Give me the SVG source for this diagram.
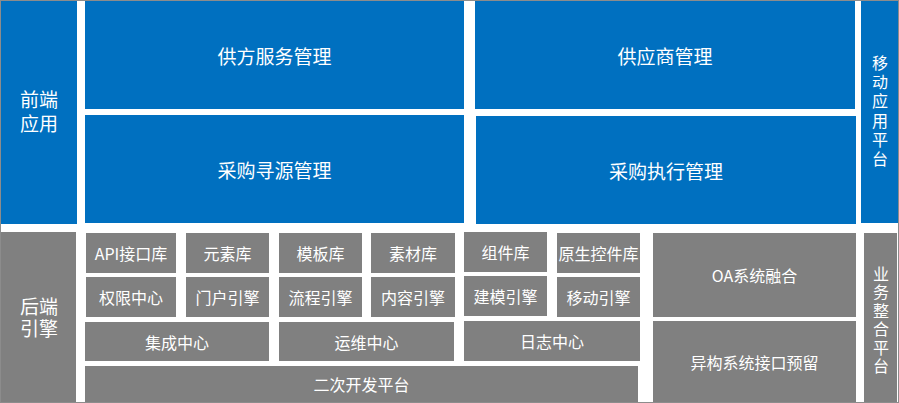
<svg xmlns="http://www.w3.org/2000/svg" width="899" height="403" viewBox="0 0 899 403">
<style>
  .blue { fill: #0070C0; }
  .gray { fill: #808080; }
  text { fill: #FFFFFF; font-family: "Noto Sans CJK SC", "Noto Sans", "Liberation Sans", sans-serif; text-anchor: middle; dominant-baseline: central; }
  .big { font-size: 19px; }
  .mid { font-size: 16px; }
  .side { font-size: 19px; font-family: "Liberation Sans", "Noto Sans CJK SC", sans-serif; }
  .vert { font-size: 16px; writing-mode: vertical-rl; }
</style>
<rect x="0" y="0" width="899" height="403" fill="#FFFFFF"/>
<g id="nodes">
  <g id="front-app"><rect class="blue" x="1" y="1" width="76" height="223"/><text class="side" x="39" y="100"><tspan x="39" y="100">前端</tspan><tspan x="39" dy="24">应用</tspan></text></g>
  <g id="supplier-service"><rect class="blue" x="85" y="1" width="379" height="108"/><text class="big" x="274.5" y="55">供方服务管理</text></g>
  <g id="sourcing"><rect class="blue" x="85" y="115" width="379" height="108"/><text class="big" x="274.5" y="169">采购寻源管理</text></g>
  <g id="supplier"><rect class="blue" x="475" y="1" width="380" height="108"/><text class="big" x="665" y="55">供应商管理</text></g>
  <g id="execution"><rect class="blue" x="476" y="116" width="380" height="108"/><text class="big" x="666" y="170">采购执行管理</text></g>
  <g id="mobile-platform"><rect class="blue" x="861" y="1" width="37" height="222"/>
    <text class="vert" x="880" y="112.5" letter-spacing="3.3">移动应用平台</text></g>

  <g id="backend-engine"><rect class="gray" x="1" y="232" width="75" height="170"/><text class="side" x="39" y="307"><tspan x="39" y="307">后端</tspan><tspan x="39" dy="22">引擎</tspan></text></g>
  <g id="api-lib"><rect class="gray" x="86" y="233" width="90" height="40"/><text class="mid" x="131" y="253">API接口库</text></g>
  <g id="element-lib"><rect class="gray" x="186" y="233" width="83" height="40"/><text class="mid" x="227.5" y="253">元素库</text></g>
  <g id="template-lib"><rect class="gray" x="279" y="233" width="83" height="40"/><text class="mid" x="320.5" y="253">模板库</text></g>
  <g id="material-lib"><rect class="gray" x="371" y="233" width="84" height="40"/><text class="mid" x="413" y="253">素材库</text></g>
  <g id="component-lib"><rect class="gray" x="464" y="232" width="83" height="40"/><text class="mid" x="505.5" y="252">组件库</text></g>
  <g id="native-control-lib"><rect class="gray" x="557" y="233" width="83" height="40"/><text class="mid" x="598.5" y="253">原生控件库</text></g>
  <g id="permission"><rect class="gray" x="86" y="277" width="90" height="40"/><text class="mid" x="131" y="297">权限中心</text></g>
  <g id="portal-engine"><rect class="gray" x="186" y="277" width="83" height="40"/><text class="mid" x="227.5" y="297">门户引擎</text></g>
  <g id="flow-engine"><rect class="gray" x="279" y="277" width="83" height="40"/><text class="mid" x="320.5" y="297">流程引擎</text></g>
  <g id="content-engine"><rect class="gray" x="371" y="277" width="84" height="40"/><text class="mid" x="413" y="297">内容引擎</text></g>
  <g id="modeling-engine"><rect class="gray" x="464" y="276" width="83" height="40"/><text class="mid" x="505.5" y="296">建模引擎</text></g>
  <g id="mobile-engine"><rect class="gray" x="557" y="277" width="83" height="40"/><text class="mid" x="598.5" y="297">移动引擎</text></g>
  <g id="integration"><rect class="gray" x="85" y="322" width="184" height="39"/><text class="mid" x="177" y="341.5">集成中心</text></g>
  <g id="ops"><rect class="gray" x="279" y="322" width="175" height="39"/><text class="mid" x="366.5" y="341.5">运维中心</text></g>
  <g id="log"><rect class="gray" x="464" y="321" width="176" height="40"/><text class="mid" x="552" y="341">日志中心</text></g>
  <g id="dev-platform"><rect class="gray" x="85" y="366" width="553" height="36"/><text class="mid" x="361.5" y="384">二次开发平台</text></g>
  <g id="oa"><rect class="gray" x="653" y="233" width="203" height="84"/><text class="mid" x="754.5" y="275">OA系统融合</text></g>
  <g id="hetero"><rect class="gray" x="653" y="321" width="203" height="81"/><text class="mid" x="754.5" y="361.5">异构系统接口预留</text></g>
  <g id="biz-platform"><rect class="gray" x="864" y="233" width="33" height="169"/>
    <text class="vert" x="881" y="321" letter-spacing="2.5">业务整合平台</text></g>
</g>
<g id="connectors"></g>
<rect x="0.5" y="0.5" width="898" height="402" fill="none" stroke="#8C8C8C" stroke-width="1"/>
</svg>
